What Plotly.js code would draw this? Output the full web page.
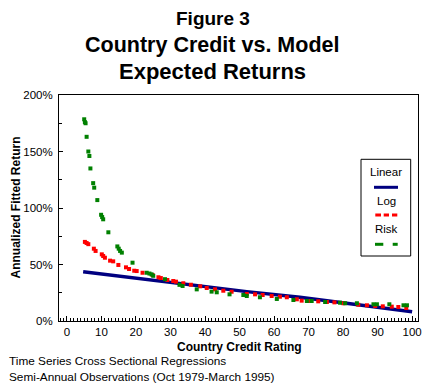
<!DOCTYPE html>
<html>
<head>
<meta charset="utf-8">
<script src="https://cdn.plot.ly/plotly-3.0.1.min.js"></script>
<style>html,body{margin:0;padding:0;background:#fff;}#chart{width:424px;height:385px;}</style>
</head>
<body>
<div id="chart"></div>
<script>
// Linear model (dark blue line)
var linearX = [4.7, 25.5, 52.1, 67.5, 91.7, 100];
var linearY = [43.6, 35.7, 26.0, 21.0, 11.8, 8.2];

// Log model (red)
var logX = [5.2, 5.7, 6.2, 7.8, 8.3, 10.1, 10.5, 11.0, 12.5, 13.4, 14.9, 17.1, 18.0, 19.5, 20.2, 21.9, 24.8, 26.5, 27.2, 29.1, 30.8, 31.6, 33.7, 35.9, 38.6, 40.5, 42.9, 45.3, 47.7, 52.1, 54.5, 56.7, 59.3, 61.7, 63.7, 66.6, 68.0, 70.4, 72.8, 75.3, 77.5, 80.1, 84.4, 86.9, 89.3, 91.5, 94.1, 96.0, 98.3];
var logY = [70, 69, 68, 64, 62, 59, 57.5, 56, 53.4, 52.8, 49.6, 47.5, 46, 44.5, 44.2, 42.7, 40.7, 38.7, 38, 36.3, 35.4, 34.8, 33.4, 32.1, 30.7, 29.2, 28, 26.8, 25.9, 23.9, 23.6, 23, 22.1, 21.5, 21, 19.2, 18, 17.7, 17.4, 16.8, 16.5, 15.7, 14.4, 13.9, 13.3, 13, 12.7, 12.4, 11.5];

// Risk model (green)
var riskX = [5.0, 5.2, 5.4, 5.7, 6.2, 6.5, 6.8, 7.6, 7.9, 8.8, 9.9, 10.2, 10.5, 12.0, 14.6, 15.0, 15.4, 15.9, 19.0, 23.1, 23.9, 24.5, 25.0, 28.4, 32.6, 33.5, 37.6, 41.9, 43.4, 47.1, 51.1, 52.1, 55.9, 60.8, 65.6, 69.5, 70.9, 74.8, 79.1, 80.6, 84.0, 88.8, 89.8, 93.4, 97.5, 98.5];
var riskY = [178.5, 176, 175, 163, 150, 146, 135, 122, 118, 107, 94, 92, 90, 78.5, 66, 64, 62, 60.5, 51.6, 42.7, 42, 41.3, 40, 37, 32, 31, 28, 26, 25.4, 23.6, 23, 22.1, 21, 19.5, 18.6, 17.7, 17.7, 16.8, 16.2, 15.7, 15.7, 14.8, 14.8, 14.8, 13.9, 13.9];

var xTicks = [0, 10, 20, 30, 40, 50, 60, 70, 80, 90, 100];
var yTicks = [0, 50, 100, 150, 200];
var yTickLabels = ['0%', '50%', '100%', '150%', '200%'];
var seriesNames = ['Linear', 'Log', 'Risk'];
var seriesColors = ['#000080', '#ff0000', '#008000'];

var traces = [
  {x: linearX, y: linearY, mode: 'lines', name: seriesNames[0], line: {color: seriesColors[0], width: 3.5}},
  {x: logX, y: logY, mode: 'markers', name: seriesNames[1], marker: {symbol: 'square', size: 4, color: seriesColors[1], line: {width: 0}}},
  {x: riskX, y: riskY, mode: 'markers', name: seriesNames[2], marker: {symbol: 'square', size: 4, color: seriesColors[2], line: {width: 0}}}
];

var L = 59, R = 418, T = 95, B = 321;
function px(v) { return (v - L) / (R - L); }
function py(v) { return (B - v) / (B - T); }

var tickFont = {family: 'Liberation Sans, Arial, sans-serif', size: 11.5, color: '#000'};
var boldFam = 'Liberation Sans, Arial, sans-serif';

var layout = {
  width: 424, height: 385,
  margin: {l: L, r: 424 - R, t: T, b: 385 - B, pad: 0},
  paper_bgcolor: '#fff', plot_bgcolor: '#fff',
  showlegend: false,
  font: {family: 'Liberation Sans, Arial, sans-serif', color: '#000'},
  xaxis: {
    range: [-2.3, 101.7], tickvals: xTicks, ticks: 'inside', ticklen: 5, tickcolor: '#000', tickwidth: 1,
    minor: {dtick: 1, ticks: 'inside', ticklen: 3, tickcolor: '#000', tickwidth: 1, showgrid: false},
    showline: true, mirror: true, linecolor: '#000', linewidth: 1, showgrid: false, zeroline: false,
    tickfont: tickFont, fixedrange: true
  },
  yaxis: {
    range: [0, 200], tickvals: yTicks, ticktext: yTickLabels, ticks: 'inside', ticklen: 4, tickcolor: '#000', tickwidth: 1,
    minor: {dtick: 25, ticks: 'inside', ticklen: 3, tickcolor: '#000', tickwidth: 1, showgrid: false},
    showline: true, mirror: true, linecolor: '#000', linewidth: 1, showgrid: false, zeroline: false,
    tickfont: tickFont, ticklabelstandoff: 3, fixedrange: true
  },
  shapes: [
    {type: 'rect', xref: 'paper', yref: 'paper', x0: px(361), x1: px(410.7), y0: py(256), y1: py(159.3), line: {color: '#000', width: 1}, fillcolor: '#fff'},
    {type: 'line', xref: 'paper', yref: 'paper', x0: px(374), x1: px(398), y0: py(187.3), y1: py(187.3), line: {color: seriesColors[0], width: 3}},
    {type: 'line', xref: 'paper', yref: 'paper', x0: px(375.3), x1: px(381), y0: py(215), y1: py(215), line: {color: seriesColors[1], width: 3}},
    {type: 'line', xref: 'paper', yref: 'paper', x0: px(383.7), x1: px(389), y0: py(215), y1: py(215), line: {color: seriesColors[1], width: 3}},
    {type: 'line', xref: 'paper', yref: 'paper', x0: px(392), x1: px(397.3), y0: py(215), y1: py(215), line: {color: seriesColors[1], width: 3}},
    {type: 'line', xref: 'paper', yref: 'paper', x0: px(375), x1: px(383.3), y0: py(244.3), y1: py(244.3), line: {color: seriesColors[2], width: 3}},
    {type: 'line', xref: 'paper', yref: 'paper', x0: px(392.7), x1: px(397.7), y0: py(244.3), y1: py(244.3), line: {color: seriesColors[2], width: 3}}
  ],
  annotations: [
    {text: '<b>Figure 3</b>', xref: 'paper', yref: 'paper', x: px(213), y: py(19), xanchor: 'center', yanchor: 'middle', showarrow: false, font: {size: 19, family: boldFam}},
    {text: '<b>Country Credit vs. Model</b>', xref: 'paper', yref: 'paper', x: px(212), y: py(45), xanchor: 'center', yanchor: 'middle', showarrow: false, font: {size: 21.5, family: boldFam}},
    {text: '<b>Expected Returns</b>', xref: 'paper', yref: 'paper', x: px(212), y: py(71), xanchor: 'center', yanchor: 'middle', showarrow: false, font: {size: 22, family: boldFam}},
    {text: '<b>Country Credit Rating</b>', xref: 'paper', yref: 'paper', x: px(239.5), y: py(346.7), xanchor: 'center', yanchor: 'middle', showarrow: false, font: {size: 12, family: boldFam}},
    {text: '<b>Annualized Fitted Return</b>', xref: 'paper', yref: 'paper', x: px(15), y: py(207.5), xanchor: 'center', yanchor: 'middle', textangle: -90, showarrow: false, font: {size: 12, family: boldFam}},
    {text: 'Time Series Cross Sectional Regressions', xref: 'paper', yref: 'paper', x: px(7), y: py(361), xanchor: 'left', yanchor: 'middle', showarrow: false, font: {size: 11.8}},
    {text: 'Semi-Annual Observations (Oct 1979-March 1995)', xref: 'paper', yref: 'paper', x: px(7), y: py(377), xanchor: 'left', yanchor: 'middle', showarrow: false, font: {size: 11.8}},
    {text: seriesNames[0], xref: 'paper', yref: 'paper', x: px(386), y: py(172), xanchor: 'center', yanchor: 'middle', showarrow: false, font: {size: 11.5}},
    {text: seriesNames[1], xref: 'paper', yref: 'paper', x: px(386), y: py(201), xanchor: 'center', yanchor: 'middle', showarrow: false, font: {size: 11.5}},
    {text: seriesNames[2], xref: 'paper', yref: 'paper', x: px(386), y: py(229), xanchor: 'center', yanchor: 'middle', showarrow: false, font: {size: 11.5}}
  ]
};

Plotly.newPlot('chart', traces, layout, {staticPlot: true, displayModeBar: false});
</script>
</body>
</html>
